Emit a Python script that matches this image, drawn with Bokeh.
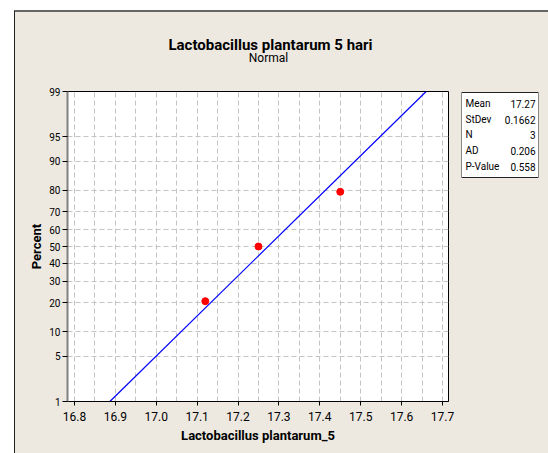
from statistics import NormalDist
import numpy as np
from bokeh.plotting import figure
from bokeh.layouts import column, row
from bokeh.models import Range1d, FixedTicker, Label, BoxAnnotation
from bokeh.embed import file_html
from bokeh.resources import INLINE

# ---- data ----
values = [17.12, 17.25, 17.45]
percent_ticks = [1, 5, 10, 20, 30, 40, 50, 60, 70, 80, 90, 95, 99]
x_ticks = [16.8, 16.9, 17.0, 17.1, 17.2, 17.3, 17.4, 17.5, 17.6, 17.7]
stat_names = ["Mean", "StDev", "N", "AD", "P-Value"]
stat_values = ["17.27", "0.1662", "3", "0.206", "0.558"]
title = "Lactobacillus plantarum 5 hari"
subtitle = "Normal"
x_label = "Lactobacillus plantarum_5"
y_label = "Percent"

FONT = "Roboto"
BEIGE = "#EDE9E0"

nd = NormalDist()
n = len(values)
ranks = [(i + 1 - 0.3) / (n + 0.4) for i in range(n)]
ys = [nd.inv_cdf(r) for r in ranks]
mean = float(np.mean(values))
sd = float(np.std(values, ddof=1))
zlo, zhi = nd.inv_cdf(0.01), nd.inv_cdf(0.99)
line_x = [mean + zlo * sd, mean + zhi * sd]
line_y = [zlo, zhi]


def blank_fig(w, h, **kw):
    f = figure(width=w, height=h, output_backend="svg", toolbar_location=None,
               x_range=Range1d(0, 1), y_range=Range1d(0, 1), **kw)
    f.axis.visible = False
    f.grid.visible = False
    f.border_fill_color = BEIGE
    f.background_fill_color = BEIGE
    f.outline_line_color = None
    return f


# ---- title panel ----
tf = blank_fig(533, 66, min_border=0)
tf.add_layout(Label(x=255, y=34, x_units="screen", y_units="screen", text=title,
                    text_font=FONT, text_font_style="bold", text_font_size="15px",
                    text_align="center", text_baseline="middle", text_color="black"))
tf.add_layout(Label(x=253, y=21, x_units="screen", y_units="screen", text=subtitle,
                    text_font=FONT, text_font_size="12px",
                    text_align="center", text_baseline="middle", text_color="black"))

# ---- main probability plot ----
p = figure(width=441, height=375,
           x_range=Range1d(16.783, 17.7147), y_range=Range1d(zlo, zhi),
           output_backend="svg", toolbar_location=None,
           min_border_left=52, min_border_right=8,
           min_border_top=13, min_border_bottom=52)
p.background_fill_color = "white"
p.border_fill_color = BEIGE
p.outline_line_color = "black"
p.outline_line_width = 1

y_tick_z = [nd.inv_cdf(t / 100.0) for t in percent_ticks]
p.yaxis.ticker = FixedTicker(ticks=y_tick_z)
p.yaxis.major_label_overrides = {z: str(t) for z, t in zip(y_tick_z, percent_ticks)}
p.xaxis.ticker = FixedTicker(ticks=x_ticks)
p.xaxis.major_label_overrides = {t: f"{t:.1f}" for t in x_ticks}

for ax in (p.xaxis[0], p.yaxis[0]):
    ax.minor_tick_line_color = None
    ax.major_tick_in = 0
    ax.major_tick_line_color = "black"
    ax.major_label_text_font = FONT
    ax.major_label_text_color = "black"
    ax.axis_label_text_font = FONT
    ax.axis_label_text_font_style = "bold"
    ax.axis_label_text_font_size = "13px"
    ax.axis_label_text_color = "black"

p.yaxis.major_tick_out = 5
p.yaxis.major_label_standoff = 2
p.yaxis.major_label_text_font_size = "10px"
p.yaxis.axis_line_color = "#808080"
p.yaxis.axis_line_width = 2
p.yaxis.axis_label = y_label
p.yaxis.axis_label_standoff = 2

p.xaxis.major_tick_out = 4
p.xaxis.major_label_standoff = 6
p.xaxis.major_label_text_font_size = "12px"
p.xaxis.axis_line_color = "black"
p.xaxis.axis_label = x_label
p.xaxis.axis_label_standoff = 4

grid_x = sorted(x_ticks + [round(t + 0.05, 2) for t in x_ticks])
p.xgrid.ticker = FixedTicker(ticks=grid_x)
for g in (p.xgrid[0], p.ygrid[0]):
    g.grid_line_color = "#C4C4C4"
    g.grid_line_dash = "5 3"
    g.grid_line_width = 1

p.line(line_x, line_y, line_color="#0000FF", line_width=1.2)
p.scatter(values, ys, size=7, fill_color="#FF0000", line_color="#FF0000")

# ---- stats box (same frame geometry as main plot; box drawn inside) ----
sf = blank_fig(92, 375, min_border_left=5, min_border_right=10,
               min_border_top=13, min_border_bottom=52)
sf.add_layout(BoxAnnotation(left=0, right=77, bottom=224, top=309,
                            left_units="screen", right_units="screen",
                            bottom_units="screen", top_units="screen",
                            fill_color="white", fill_alpha=1.0,
                            line_color="#222222", line_width=1, line_alpha=1.0))
row_y = [298, 282, 267, 251, 235]
for name, val, yy in zip(stat_names, stat_values, row_y):
    sf.add_layout(Label(x=4, y=yy, x_units="screen", y_units="screen", text=name,
                        text_font=FONT, text_font_size="10px",
                        text_align="left", text_baseline="middle", text_color="black"))
    sf.add_layout(Label(x=74, y=yy, x_units="screen", y_units="screen", text=val,
                        text_font=FONT, text_font_size="10px",
                        text_align="right", text_baseline="middle", text_color="black"))

layout = column(tf, row(p, sf, spacing=0), spacing=0,
                margin=(10, 0, 0, 14),
                styles={"border-top": "2px solid #666666",
                        "border-left": "1px solid #222222",
                        "background-color": BEIGE})

open("out.html", "w").write(file_html(layout, INLINE))
